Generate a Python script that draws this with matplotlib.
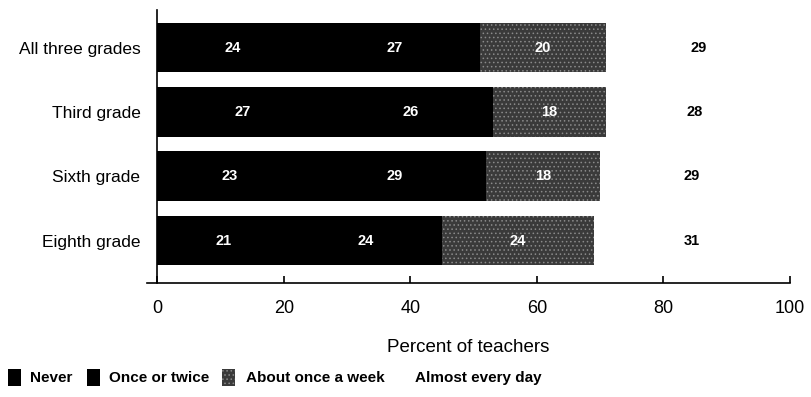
import matplotlib.pyplot as plt
from matplotlib.patches import Rectangle

plt.rcParams["font.family"] = ["Liberation Sans", "DejaVu Sans"]
plt.rcParams["hatch.linewidth"] = 0.6

# Data
grades = ["All three grades", "Third grade", "Sixth grade", "Eighth grade"]
never = [24, 27, 23, 21]
once_twice = [27, 26, 29, 24]
once_week = [20, 18, 18, 24]
every_day = [29, 28, 29, 31]
series_names = ["Never", "Once or twice", "About once a week", "Almost every day"]

fig = plt.figure(figsize=(8.11, 3.97), dpi=100)
ax = fig.add_axes([147 / 811, 1 - 283 / 397, (790 - 147) / 811, 273 / 397])

y = list(range(len(grades)))
h = 0.77
series = [never, once_twice, once_week, every_day]
faces = ["black", "black", "#3a3a3a", "white"]
hatches = [None, None, "....", None]
text_colors = ["white", "white", "white", "black"]

left = [0] * len(grades)
for vals, fc, ht, tc in zip(series, faces, hatches, text_colors):
    ax.barh(y, vals, left=left, height=h, color=fc, hatch=ht,
            edgecolor="#8a8a8a" if ht else fc, linewidth=0)
    for yi, v, l in zip(y, vals, left):
        ax.text(l + v / 2, yi, str(v), ha="center", va="center",
                color=tc, fontsize=10.5, fontweight="bold")
    left = [a + b for a, b in zip(left, vals)]

ax.set_xlim(-1.6, 100)
ax.set_ylim(3.66, -0.583)
ax.spines["left"].set_position(("data", 0))
ax.spines["top"].set_visible(False)
ax.spines["right"].set_visible(False)
ax.spines["left"].set_linewidth(1.2)
ax.spines["bottom"].set_linewidth(1.2)

ax.set_xticks([0, 20, 40, 60, 80, 100])
ax.tick_params(axis="x", direction="in", length=5, width=1.2, labelsize=13, pad=12)
ax.set_yticks(y)
ax.set_yticklabels(grades, fontsize=12.5)
ax.tick_params(axis="y", length=0, pad=12)
ax.set_xlabel("Percent of teachers", fontsize=13.5, labelpad=16)

# Legend row
legend_x = [8, 87, 222, 395]
text_x = [30, 109, 246, 415]
for sx, tx, name, fc, ht in zip(legend_x, text_x, series_names, faces, hatches):
    if fc != "white":
        fig.patches.append(Rectangle((sx / 811, 1 - 386 / 397), 13 / 811, 17 / 397,
                                     transform=fig.transFigure, facecolor=fc,
                                     hatch=ht, edgecolor="#8a8a8a" if ht else fc,
                                     linewidth=0))
    fig.text(tx / 811, 1 - 378 / 397, name, fontsize=11, fontweight="bold",
             va="center", ha="left")

fig.savefig("out.png", dpi=100)
